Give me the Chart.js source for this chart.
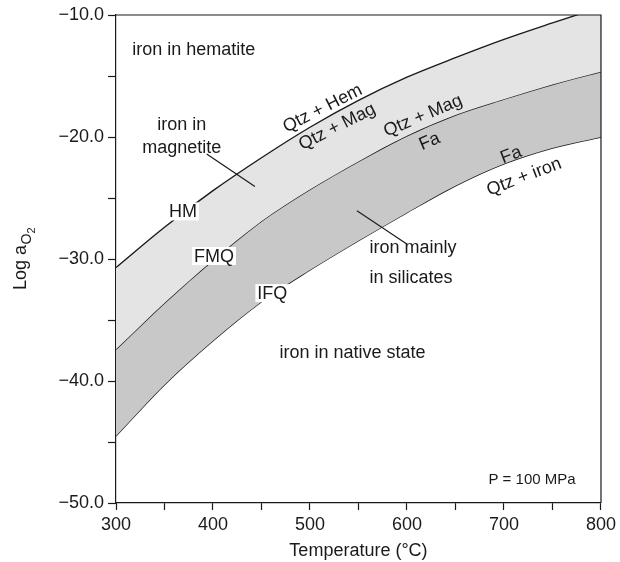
<!DOCTYPE html>
<html lang="en">
<head>
    <meta charset="UTF-8">
    <title>Iron oxygen buffers</title>
    <script src="https://cdn.jsdelivr.net/npm/chart.js"></script>
    <style>
        body { margin: 0; background: #fff; }
        #wrap { width: 620px; height: 562px; }
    </style>
</head>
<body>
    <div id="wrap"><canvas id="bufferChart" width="620" height="562"></canvas></div>

    <script>
        // temperature (°C) and log aO2 of the three buffer curves
        const temps = [300, 350, 400, 450, 500, 550, 600, 650, 700, 750, 800];
        const hmValues = [-30.7, -27.4, -24.4, -21.7, -19.2, -17.0, -15.1, -13.5, -12.0, -10.65, -9.35];
        const fmqValues = [-37.4, -33.6, -30.1, -26.9, -24.3, -22.0, -19.9, -18.2, -16.9, -15.7, -14.65];
        const ifqValues = [-44.5, -40.3, -36.7, -33.5, -30.9, -28.5, -26.2, -24.0, -22.2, -20.9, -20.0];

        const xTicks = [300, 400, 500, 600, 700, 800];
        const yTicks = [-50, -40, -30, -20, -10];

        const FONT = '"Liberation Sans", Arial, Helvetica, sans-serif';
        const INK = '#1a1a1a';

        // text placed in data units: [text, T, logaO2, align, angle(deg), boxed]
        const notes = [
            ['iron in hematite', 316.8, -12.8, 'left', 0, false],
            ['iron in', 367.8, -18.9, 'center', 0, false],
            ['magnetite', 367.8, -20.8, 'center', 0, false],
            ['HM', 369, -26.1, 'center', 0, true],
            ['FMQ', 401, -29.75, 'center', 0, true],
            ['IFQ', 461.2, -32.8, 'center', 0, true],
            ['iron in native state', 543.9, -37.6, 'center', 0, false],
            ['iron mainly', 561.3, -29.0, 'left', 0, false],
            ['in silicates', 561.3, -31.5, 'left', 0, false],
            ['Qtz + Hem', 512.6, -17.6, 'center', -27, false],
            ['Qtz + Mag', 527.7, -19.1, 'center', -27, false],
            ['Qtz + Mag', 616.2, -18.2, 'center', -23, false],
            ['Fa', 623, -20.3, 'center', -23, false],
            ['Fa', 707, -21.4, 'center', -21, false],
            ['Qtz + iron', 720.5, -23.2, 'center', -21, false]
        ];
        // pointer lines: [T1, v1, T2, v2]
        const pointers = [
            [393.5, -21.4, 443.2, -24.06],
            [548.4, -26.04, 600.2, -28.8]
        ];

        const decorations = {
            id: 'decorations',
            afterDatasetsDraw(chart) {
                const ctx = chart.ctx;
                const xs = chart.scales.x, ys = chart.scales.y;
                ctx.save();
                ctx.strokeStyle = INK;
                ctx.lineWidth = 1.2;
                pointers.forEach(p => {
                    ctx.beginPath();
                    ctx.moveTo(xs.getPixelForValue(p[0]), ys.getPixelForValue(p[1]));
                    ctx.lineTo(xs.getPixelForValue(p[2]), ys.getPixelForValue(p[3]));
                    ctx.stroke();
                });
                ctx.font = '18px ' + FONT;
                ctx.textBaseline = 'middle';
                notes.forEach(n => {
                    const px = xs.getPixelForValue(n[1]);
                    const py = ys.getPixelForValue(n[2]);
                    ctx.save();
                    ctx.translate(px, py);
                    ctx.rotate(n[4] * Math.PI / 180);
                    ctx.textAlign = n[3];
                    if (n[5]) {
                        const w = ctx.measureText(n[0]).width + 4;
                        ctx.fillStyle = '#fff';
                        ctx.fillRect(-w / 2, -9, w, 18);
                    }
                    ctx.fillStyle = INK;
                    ctx.fillText(n[0], 0, 1);
                    ctx.restore();
                });
                ctx.font = '15px ' + FONT;
                ctx.textAlign = 'right';
                ctx.fillStyle = INK;
                ctx.fillText('P = 100 MPa', xs.getPixelForValue(773.8), ys.getPixelForValue(-48.1));
                ctx.restore();
            },
            afterDraw(chart) {
                const ctx = chart.ctx;
                const a = chart.chartArea;
                ctx.save();
                ctx.strokeStyle = INK;
                ctx.lineWidth = 1.2;
                ctx.beginPath();
                ctx.moveTo(a.left, a.top);
                ctx.lineTo(a.right, a.top);
                ctx.lineTo(a.right, a.bottom);
                ctx.stroke();

                // y axis title with subscripts: Log aO2
                ctx.translate(25.5, (a.top + a.bottom) / 2);
                ctx.rotate(-Math.PI / 2);
                ctx.fillStyle = INK;
                ctx.textBaseline = 'alphabetic';
                ctx.textAlign = 'left';
                const big = '18px ' + FONT, sub = '14px ' + FONT, sub2 = '11px ' + FONT;
                ctx.font = big; const w1 = ctx.measureText('Log a').width;
                ctx.font = sub; const w2 = ctx.measureText('O').width;
                ctx.font = sub2; const w3 = ctx.measureText('2').width;
                let x0 = -(w1 + w2 + w3) / 2;
                ctx.font = big; ctx.fillText('Log a', x0, 0);
                ctx.font = sub; ctx.fillText('O', x0 + w1 + 0.5, 5);
                ctx.font = sub2; ctx.fillText('2', x0 + w1 + w2 + 0.5, 9);
                ctx.restore();
            }
        };

        const ctx = document.getElementById('bufferChart').getContext('2d');
        new Chart(ctx, {
            type: 'line',
            data: {
                labels: temps,
                datasets: [
                    { label: 'HM', data: temps.map((t, i) => ({ x: t, y: hmValues[i] })), borderColor: INK, borderWidth: 1.4, pointRadius: 0, fill: '+1', backgroundColor: '#e4e4e4', cubicInterpolationMode: 'monotone' },
                    { label: 'FMQ', data: temps.map((t, i) => ({ x: t, y: fmqValues[i] })), borderColor: INK, borderWidth: 1.4, pointRadius: 0, fill: '+1', backgroundColor: '#c8c8c8', cubicInterpolationMode: 'monotone' },
                    { label: 'IFQ', data: temps.map((t, i) => ({ x: t, y: ifqValues[i] })), borderColor: INK, borderWidth: 1.4, pointRadius: 0, fill: false, cubicInterpolationMode: 'monotone' }
                ]
            },
            options: {
                responsive: false,
                animation: false,
                layout: { padding: { top: 15, right: 18, left: 0, bottom: 0 } },
                plugins: { legend: { display: false }, tooltip: { enabled: false } },
                scales: {
                    x: {
                        type: 'linear', min: 300, max: 800,
                        afterFit: s => { s.height = 59; },
                        ticks: {
                            stepSize: 50, autoSkip: false, maxRotation: 0,
                            color: INK, font: { family: FONT, size: 18 }, padding: 4,
                            callback: v => xTicks.includes(v) ? String(v) : ''
                        },
                        grid: { drawOnChartArea: false, drawTicks: true, tickLength: 7, tickColor: INK, tickWidth: 1.2 },
                        border: { color: INK, width: 1.2 },
                        title: { display: true, text: 'Temperature (°C)', color: INK, font: { family: FONT, size: 18 }, padding: { top: 0, bottom: 0 } }
                    },
                    y: {
                        type: 'linear', min: -50, max: -10,
                        afterFit: s => { s.width = 116; },
                        ticks: {
                            stepSize: 5, autoSkip: false,
                            color: INK, font: { family: FONT, size: 18 }, padding: 4,
                            callback: v => yTicks.includes(v) ? '\u2212' + Math.abs(v).toFixed(1) : ''
                        },
                        grid: { drawOnChartArea: false, drawTicks: true, tickLength: 8, tickColor: INK, tickWidth: 1.2 },
                        border: { color: INK, width: 1.2 }
                    }
                }
            },
            plugins: [decorations]
        });
    </script>
</body>
</html>
